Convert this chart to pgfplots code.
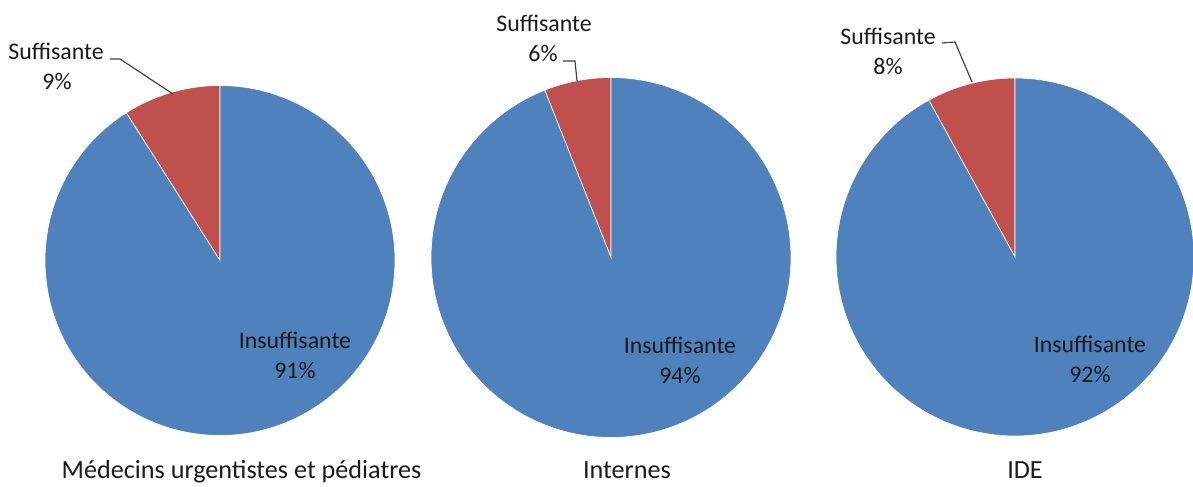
\documentclass[border=0pt]{standalone}
\usepackage{pgfplots}
\usepackage{pgfplotstable}
\pgfplotsset{compat=1.18}
\usepackage{fontspec}
\setmainfont{Carlito}
\definecolor{pieblue}{HTML}{4F81BD}
\definecolor{piered}{HTML}{C0504D}
\definecolor{leader}{HTML}{404040}
\definecolor{txt}{HTML}{1A1A1A}
% pie centre/radius in px of the layout, then shares in percent
\pgfplotstableread{
cx   cy    r    suff insuff
220  260.5 175  9    91
611  257.5 180  6    94
1015 257   179  8    92
}\pies
\newcommand\getpie[2]{%
  \pgfplotstablegetelem{#1}{cx}\of\pies\expandafter\let\csname cx#2\endcsname\pgfplotsretval
  \pgfplotstablegetelem{#1}{cy}\of\pies\expandafter\let\csname cy#2\endcsname\pgfplotsretval
  \pgfplotstablegetelem{#1}{r}\of\pies\expandafter\let\csname r#2\endcsname\pgfplotsretval
  \pgfplotstablegetelem{#1}{suff}\of\pies
  \pgfmathsetmacro\tmp{90+3.6*\pgfplotsretval}%
  \expandafter\let\csname a#2\endcsname\tmp
}
\getpie{0}{A}\getpie{1}{B}\getpie{2}{C}
\begin{document}
\begin{tikzpicture}[
  lbl/.style={font=\fontsize{14.3}{17}\selectfont, text=txt, inner sep=0pt, anchor=base},
  ttl/.style={font=\fontsize{15.7}{19}\selectfont, text=txt, inner sep=0pt, anchor=base}]
\begin{axis}[x=0.6pt, y=0.6pt, xmin=0, xmax=1193, ymin=0, ymax=487,
  y dir=reverse, hide axis, clip=true]
\path (rel axis cs:0,0) rectangle (rel axis cs:1,1);
% Pie 1
\addplot[fill=piered, draw=white, line width=0.4pt, domain=90:\aA, samples=40, smooth]
  ({\cxA+\rA*cos(x)},{\cyA-\rA*sin(x)}) -- (axis cs:\cxA,\cyA) -- cycle;
\addplot[fill=pieblue, draw=white, line width=0.4pt, domain=\aA:450, samples=200, smooth]
  ({\cxA+\rA*cos(x)},{\cyA-\rA*sin(x)}) -- (axis cs:\cxA,\cyA) -- cycle;
% Pie 2
\addplot[fill=piered, draw=white, line width=0.4pt, domain=90:\aB, samples=40, smooth]
  ({\cxB+\rB*cos(x)},{\cyB-\rB*sin(x)}) -- (axis cs:\cxB,\cyB) -- cycle;
\addplot[fill=pieblue, draw=white, line width=0.4pt, domain=\aB:450, samples=200, smooth]
  ({\cxB+\rB*cos(x)},{\cyB-\rB*sin(x)}) -- (axis cs:\cxB,\cyB) -- cycle;
% Pie 3
\addplot[fill=piered, draw=white, line width=0.4pt, domain=90:\aC, samples=40, smooth]
  ({\cxC+\rC*cos(x)},{\cyC-\rC*sin(x)}) -- (axis cs:\cxC,\cyC) -- cycle;
\addplot[fill=pieblue, draw=white, line width=0.4pt, domain=\aC:450, samples=200, smooth]
  ({\cxC+\rC*cos(x)},{\cyC-\rC*sin(x)}) -- (axis cs:\cxC,\cyC) -- cycle;
% leader lines
\addplot[leader, line width=0.7pt, no marks] coordinates {(110,59) (120,59) (173,94)};
\addplot[leader, line width=0.7pt, no marks] coordinates {(563,61) (575,61) (577,81)};
\addplot[leader, line width=0.7pt, no marks] coordinates {(942,43) (955,42) (972,82)};
% labels
\node[lbl] at (axis cs:56,60) {Suffisante};
\node[lbl] at (axis cs:57,89) {9\%};
\node[lbl] at (axis cs:544,31.5) {Suffisante};
\node[lbl] at (axis cs:543,61.5) {6\%};
\node[lbl] at (axis cs:888,45) {Suffisante};
\node[lbl] at (axis cs:888,75) {8\%};
\node[lbl] at (axis cs:295,348) {Insuffisante};
\node[lbl] at (axis cs:295,378) {91\%};
\node[lbl] at (axis cs:680,353) {Insuffisante};
\node[lbl] at (axis cs:680,383) {94\%};
\node[lbl] at (axis cs:1090,352) {Insuffisante};
\node[lbl] at (axis cs:1090,382) {92\%};
\node[ttl] at (axis cs:241.5,478) {Médecins urgentistes et pédiatres};
\node[ttl] at (axis cs:627,478) {Internes};
\node[ttl] at (axis cs:1025,478) {IDE};
\end{axis}
\end{tikzpicture}
\end{document}
